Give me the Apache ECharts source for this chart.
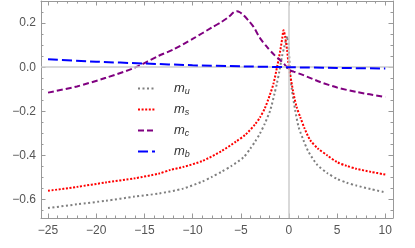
<!DOCTYPE html>
<html><head><meta charset="utf-8">
<script src="https://cdn.jsdelivr.net/npm/echarts@6/dist/echarts.min.js"></script>
<style>html,body{margin:0;padding:0;background:#fff}#c{width:415px;height:248px}</style>
</head><body><div id="c"></div>
<script>
// ---- data ----
const muX = [-25, -22, -19, -16, -13.5, -11, -9, -8, -7, -6, -4.7, -4, -3.5, -3, -2.5, -1.94, -1.5, -1.25, -1, -0.73, -0.5, -0.3, -0.15, 0, 0.13, 0.3, 0.65, 1, 1.5, 2, 2.9, 4, 5, 6, 7, 8.5, 10];
const muY = [-0.638, -0.621, -0.605, -0.586, -0.572, -0.55, -0.518, -0.497, -0.474, -0.448, -0.408, -0.368, -0.336, -0.30, -0.255, -0.195, -0.12, -0.074, -0.02, 0.047, 0.09, 0.125, 0.14, 0.07, -0.03, -0.10, -0.195, -0.27, -0.33, -0.38, -0.44, -0.48, -0.506, -0.523, -0.536, -0.552, -0.567];

const msX = [-25, -22, -19, -16, -13.5, -12.3, -11, -9, -7, -5.5, -4.5, -3.5, -3, -2.5, -2, -1.6, -1.2, -0.9, -0.7, -0.56, -0.4, -0.2, 0, 0.25, 0.5, 0.8, 1.2, 1.6, 2.2, 3, 4, 5, 6, 7, 8.5, 10];
const msY = [-0.56, -0.542, -0.522, -0.503, -0.482, -0.465, -0.452, -0.425, -0.38, -0.337, -0.305, -0.258, -0.227, -0.186, -0.128, -0.074, 0.008, 0.075, 0.13, 0.168, 0.14, 0.08, 0.0, -0.065, -0.125, -0.18, -0.229, -0.275, -0.33, -0.368, -0.40, -0.43, -0.447, -0.46, -0.474, -0.486];

const mcX = [-25, -22, -19, -16, -13.5, -12, -10, -8, -7, -6.4, -6, -5.7, -5.4, -5.1, -4.7, -4.2, -3.67, -3, -2.28, -1.5, -0.9, -0.5, 0, 0.5, 1.5, 3.25, 5, 7, 10];
const mcY = [-0.115, -0.087, -0.048, -0.002, 0.052, 0.08, 0.128, 0.18, 0.205, 0.223, 0.238, 0.25, 0.254, 0.249, 0.235, 0.211, 0.183, 0.132, 0.092, 0.055, 0.032, 0.015, -0.012, -0.02, -0.036, -0.067, -0.092, -0.112, -0.135];

const mbX = [-25, -20, -15, -10, -5, 0, 5, 10];
const mbY = [0.036, 0.025, 0.017, 0.009, 0.004, 0.0, -0.003, -0.006];

const xTicks = [-25, -20, -15, -10, -5, 0, 5, 10];
const yTicks = [-0.6, -0.4, -0.2, 0, 0.2];
const xMinor = [];
for (let i = -25; i <= 10; i++) xMinor.push(i);
const yMinor = [];
for (let i = -13; i <= 5; i++) yMinor.push(Math.round(i * 5) / 100);

const XMIN = -25.73, XMAX = 10.8, YMIN = -0.683, YMAX = 0.3;
const frame = '#999999';
const minus = s => String(s).replace('-', '\u2212');

function zip(xs, ys) { return xs.map((x, i) => [x, ys[i]]); }

function xAx(pos, labels, ticks, len, line) {
  return {
    type: 'value', position: pos, min: XMIN, max: XMAX,
    splitLine: { show: false },
    axisLine: { show: line, onZero: false, lineStyle: { color: frame, width: 1 } },
    axisTick: { show: true, inside: true, length: len, customValues: ticks, lineStyle: { color: frame, width: 1 } },
    axisLabel: labels ? { show: true, customValues: xTicks, margin: 7, color: '#555', fontSize: 12,
      fontFamily: 'Liberation Sans', formatter: v => minus(v) } : { show: false }
  };
}
function yAx(pos, labels, ticks, len, line) {
  return {
    type: 'value', position: pos, min: YMIN, max: YMAX,
    splitLine: { show: false },
    axisLine: { show: line, onZero: false, lineStyle: { color: frame, width: 1 } },
    axisTick: { show: true, inside: true, length: len, customValues: ticks, lineStyle: { color: frame, width: 1 } },
    axisLabel: labels ? { show: true, customValues: yTicks, margin: 5, color: '#555', fontSize: 12,
      fontFamily: 'Liberation Sans', formatter: v => minus(v.toFixed(1)) } : { show: false }
  };
}

const chart = echarts.init(document.getElementById('c'), null, { renderer: 'canvas' });
const mk = (name, xs, ys, color, dash, z) => ({
  name: name, type: 'line', data: zip(xs, ys), xAxisIndex: 0, yAxisIndex: 0,
  symbol: 'none', smooth: 0.25, z: z, animation: false,
  lineStyle: { color: color, width: 2, type: dash, cap: 'butt' },
  itemStyle: { color: color }
});

chart.setOption({
  animation: false,
  grid: { left: 41, right: 22, top: 1, bottom: 30, containLabel: false },
  xAxis: [
    xAx('bottom', true, xTicks, 4.5, true),
    xAx('bottom', false, xMinor, 2.5, false),
    xAx('top', false, xTicks, 4.5, true),
    xAx('top', false, xMinor, 2.5, false)
  ],
  yAxis: [
    yAx('left', true, yTicks, 4.5, true),
    yAx('left', false, yMinor, 2.5, false),
    yAx('right', false, yTicks, 4.5, true),
    yAx('right', false, yMinor, 2.5, false)
  ],
  legend: {
    orient: 'vertical', left: 132, top: 77, itemWidth: 17, itemHeight: 8, itemGap: 7,
    data: ['m_u', 'm_s', 'm_c', 'm_b'],
    itemStyle: { opacity: 0 },
    formatter: n => '{m|m}{s|' + n.slice(2) + '}',
    textStyle: {
      color: '#333',
      rich: {
        m: { fontStyle: 'italic', fontSize: 13, fontFamily: 'Liberation Sans', color: '#333', padding: [0, 0, 0, 14] },
        s: { fontStyle: 'italic', fontSize: 9, fontFamily: 'Liberation Sans', color: '#333', padding: [6, 0, 0, 0] }
      }
    }
  },
  series: [
    {
      type: 'line', data: [], xAxisIndex: 0, yAxisIndex: 0, z: 1, silent: true,
      markLine: { silent: true, symbol: 'none', label: { show: false }, animation: false,
        lineStyle: { color: '#cccccc', width: 1.5, type: 'solid' },
        data: [{ xAxis: 0 }, { yAxis: 0 }] }
    },
    mk('m_u', muX, muY, '#7f7f7f', [2, 2.5], 2),
    mk('m_s', msX, msY, '#ff0000', [2, 1.6], 3),
    mk('m_c', mcX, mcY, '#800080', [6, 3], 4),
    mk('m_b', mbX, mbY, '#0000ff', [10, 4], 5)
  ]
});
</script>
</body></html>
